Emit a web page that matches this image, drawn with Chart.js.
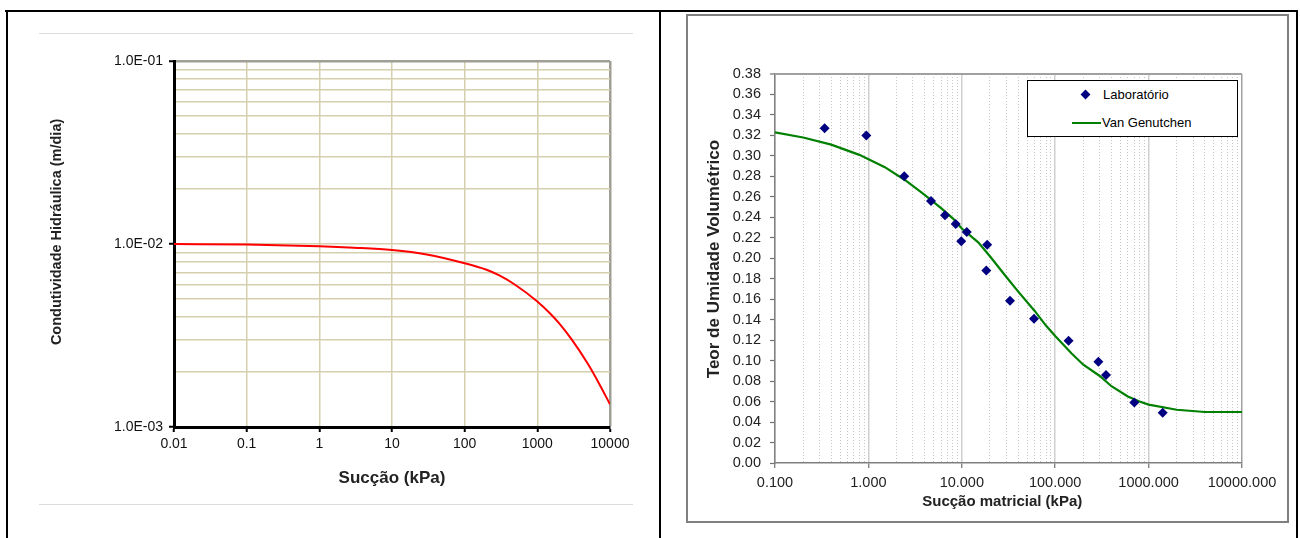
<!DOCTYPE html>
<html>
<head>
<meta charset="utf-8">
<script src="https://cdn.jsdelivr.net/npm/chart.js@4.4.0/dist/chart.umd.min.js"></script>
<style>
  body { margin: 0; background: #fff; }
  #page { position: relative; width: 1300px; height: 538px; overflow: hidden; font-family: "Liberation Sans", Arial, sans-serif; }
  .abs { position: absolute; }
  .legend-text { position: absolute; font-size: 13px; color: #000; line-height: 16px; }
</style>
</head>
<body>
<div id="page">
  <!-- table frame -->
  <div class="abs" style="left:5px;top:10px;width:1293px;height:2px;background:#000"></div>
  <div class="abs" style="left:6px;top:10px;width:2px;height:528px;background:#000"></div>
  <div class="abs" style="left:659px;top:10px;width:2px;height:528px;background:#000"></div>
  <div class="abs" style="left:1296px;top:10px;width:2px;height:528px;background:#000"></div>
  <!-- left chart separators -->
  <div class="abs" style="left:39px;top:33px;width:594px;height:1px;background:#dcdcdc"></div>
  <div class="abs" style="left:39px;top:504px;width:594px;height:1px;background:#dcdcdc"></div>
  <!-- right chart box -->
  <div class="abs" style="left:686px;top:14px;width:603px;height:509px;border:2px solid #808080;box-sizing:border-box"></div>

  <canvas id="kChart" class="abs" style="left:0;top:0"></canvas>
  <canvas id="wChart" class="abs" style="left:661px;top:0"></canvas>

  <!-- legend of right chart -->
  <div class="abs" style="left:1027px;top:80px;width:211px;height:57px;border:1.5px solid #000;box-sizing:border-box;background:#fff"></div>
  <div class="abs" style="left:1082px;top:91px;width:7px;height:7px;background:#000080;transform:rotate(45deg)"></div>
  <div class="legend-text" style="left:1103px;top:87px">Laboratório</div>
  <div class="abs" style="left:1072px;top:122px;width:29px;height:2px;background:#008000"></div>
  <div class="legend-text" style="left:1102px;top:115px">Van Genutchen</div>
</div>

<script>
// ---- left chart: hydraulic conductivity ----
const kSuction = [0.01, 0.1, 1, 3, 10, 30, 100, 200, 300, 500, 1000, 1500, 2000, 3000, 5000, 7000, 10000];
const kConductivity = [0.0100, 0.00993, 0.00971, 0.00954, 0.00927, 0.00877, 0.00785, 0.00723, 0.00673, 0.00597, 0.00485, 0.00417, 0.00368, 0.00299, 0.00220, 0.00174, 0.00133];
const kSuctionTicks = [0.01, 0.1, 1, 10, 100, 1000, 10000];
const kSuctionLabels = ['0.01', '0.1', '1', '10', '100', '1000', '10000'];
const kCondTicks = [0.001, 0.01, 0.1];
const kCondLabels = ['1.0E-03', '1.0E-02', '1.0E-01'];

// ---- right chart: water retention ----
const labSuction = [0.34, 0.95, 2.42, 4.68, 6.61, 8.6, 9.87, 11.3, 18.7, 18.3, 32.8, 59.3, 139, 290, 350, 703, 1416];
const labMoisture = [0.327, 0.320, 0.280, 0.256, 0.242, 0.2335, 0.2165, 0.2257, 0.2133, 0.188, 0.1586, 0.141, 0.1195, 0.099, 0.086, 0.059, 0.049];
const vgSuction = [0.1, 0.2, 0.4, 0.8, 1.5, 2.5, 4, 6, 8, 10, 15, 20, 30, 40, 60, 80, 100, 150, 200, 300, 400, 600, 800, 1000, 2000, 4000, 10000];
const vgMoisture = [0.323, 0.318, 0.311, 0.301, 0.289, 0.276, 0.262, 0.249, 0.239, 0.229, 0.2156, 0.202, 0.1817, 0.1677, 0.1488, 0.134, 0.124, 0.107, 0.096, 0.085, 0.075, 0.065, 0.060, 0.057, 0.052, 0.0498, 0.0498];
const wSuctionTicks = [0.1, 1, 10, 100, 1000, 10000];
const wSuctionLabels = ['0.100', '1.000', '10.000', '100.000', '1000.000', '10000.000'];
const moistureTicks = [0.00, 0.02, 0.04, 0.06, 0.08, 0.10, 0.12, 0.14, 0.16, 0.18, 0.20, 0.22, 0.24, 0.26, 0.28, 0.30, 0.32, 0.34, 0.36, 0.38];
const moistureLabels = ['0.00', '0.02', '0.04', '0.06', '0.08', '0.10', '0.12', '0.14', '0.16', '0.18', '0.20', '0.22', '0.24', '0.26', '0.28', '0.30', '0.32', '0.34', '0.36', '0.38'];

Chart.defaults.font.family = '"Liberation Sans", Arial, sans-serif';
Chart.defaults.color = '#111';

const minorSteps = [1, 2, 3, 4, 5, 6, 7, 8, 9];
function logGrid(decades) {
  const out = [];
  decades.slice(0, -1).forEach(d => minorSteps.forEach(m => out.push(+(d * m).toPrecision(6))));
  out.push(decades[decades.length - 1]);
  return out;
}
function near(a, b) { return Math.abs(a - b) <= Math.abs(b) * 1e-6 + 1e-12; }
function labelFor(values, labels) {
  return function (v) {
    const i = values.findIndex(t => near(v, t));
    return i >= 0 ? labels[i] : '';
  };
}
function isIn(values, v) { return values.some(t => near(v, t)); }

// left chart
const kCanvas = document.getElementById('kChart');
kCanvas.width = 659; kCanvas.height = 538;
const beige = '#d6cfad';
new Chart(kCanvas, {
  type: 'scatter',
  data: {
    datasets: [{
      label: 'K',
      data: kSuction.map((x, i) => ({ x: x, y: kConductivity[i] })),
      showLine: true,
      borderColor: '#ff0000',
      borderWidth: 2,
      pointRadius: 0,
      cubicInterpolationMode: 'monotone'
    }]
  },
  options: {
    responsive: false,
    animation: false,
    layout: { padding: { left: 0, top: 61, right: 49, bottom: 41 } },
    plugins: { legend: { display: false }, tooltip: { enabled: false } },
    scales: {
      x: {
        type: 'logarithmic',
        min: 0.01, max: 10000,
        afterBuildTicks: s => { s.ticks = kSuctionTicks.map(v => ({ value: v })); },
        afterFit: s => { s.height = 70; },
        ticks: { autoSkip: false, maxRotation: 0, padding: 4, font: { size: 14 }, callback: labelFor(kSuctionTicks, kSuctionLabels) },
        grid: {
          color: c => (c.tick && near(c.tick.value, 10000)) ? '#a09f96' : beige,
          lineWidth: c => (c.tick && near(c.tick.value, 10000)) ? 2.5 : 1.5,
          tickColor: '#000', tickWidth: 2, tickLength: 5
        },
        border: { color: '#000', width: 3 },
        title: { display: true, text: 'Sucção (kPa)', font: { size: 17, weight: 'bold' }, color: '#222', padding: { top: 0, bottom: 8 } }
      },
      y: {
        type: 'logarithmic',
        min: 0.001, max: 0.1,
        afterBuildTicks: s => { s.ticks = logGrid(kCondTicks).map(v => ({ value: v })); },
        afterFit: s => { s.width = 174; },
        ticks: { autoSkip: false, padding: 6, font: { size: 14 }, callback: labelFor(kCondTicks, kCondLabels) },
        grid: {
          color: c => (c.tick && near(c.tick.value, 0.1)) ? '#a09f96' : beige,
          lineWidth: c => (c.tick && near(c.tick.value, 0.1)) ? 2.5 : 1.5,
          tickColor: c => (c.tick && isIn(kCondTicks, c.tick.value)) ? '#000' : 'rgba(0,0,0,0)',
          tickWidth: 2, tickLength: 5
        },
        border: { color: '#000', width: 3 },
        // leading spaces lift the title a little above the plot centre, as in the original
        title: { display: true, text: '      Condutividade Hidráulica (m/dia)', font: { size: 14.5, weight: 'bold' }, color: '#222', padding: { top: 48, bottom: 0 } }
      }
    }
  }
});

// right chart
const wCanvas = document.getElementById('wChart');
wCanvas.width = 635; wCanvas.height = 538;
new Chart(wCanvas, {
  type: 'scatter',
  data: {
    datasets: [{
      label: 'Laboratório',
      data: labSuction.map((x, i) => ({ x: x, y: labMoisture[i] })),
      pointStyle: 'rectRot',
      pointRadius: 5,
      backgroundColor: '#000080',
      borderColor: '#000080',
      borderWidth: 0,
      showLine: false,
      order: 0
    }, {
      label: 'Van Genutchen',
      data: vgSuction.map((x, i) => ({ x: x, y: vgMoisture[i] })),
      showLine: true,
      borderColor: '#008000',
      borderWidth: 2.2,
      pointRadius: 0,
      tension: 0,
      order: 1
    }]
  },
  options: {
    responsive: false,
    animation: false,
    layout: { padding: { left: 0, top: 74, right: 54, bottom: 20 } },
    plugins: { legend: { display: false }, tooltip: { enabled: false } },
    scales: {
      x: {
        type: 'logarithmic',
        min: 0.1, max: 10000,
        afterBuildTicks: s => { s.ticks = logGrid(wSuctionTicks).map(v => ({ value: v })); },
        afterFit: s => { s.height = 55; },
        ticks: { autoSkip: false, maxRotation: 0, padding: 6, font: { size: 14.5 }, color: '#222', callback: labelFor(wSuctionTicks, wSuctionLabels) },
        grid: {
          color: c => {
            if (!c.tick) return '#c8c8c8';
            if (near(c.tick.value, 10000)) return '#a0a0a0';
            return isIn(wSuctionTicks, c.tick.value) ? '#cfcfcf' : '#c4c4c4';
          },
          lineWidth: c => (c.tick && isIn(wSuctionTicks, c.tick.value)) ? 1.5 : 1,
          tickColor: c => (c.tick && isIn(wSuctionTicks, c.tick.value)) ? '#707070' : 'rgba(0,0,0,0)',
          tickWidth: 1.2, tickLength: 5
        },
        border: {
          color: '#808080', width: 1.5,
          dash: c => (c.tick && !isIn(wSuctionTicks, c.tick.value)) ? [1, 2] : []
        },
        title: { display: true, text: 'Sucção matricial (kPa)   ', font: { size: 15, weight: 'bold' }, color: '#222', padding: { top: 0, bottom: 7 } }
      },
      y: {
        min: 0, max: 0.38,
        afterBuildTicks: s => { s.ticks = moistureTicks.map(v => ({ value: v })); },
        afterFit: s => { s.width = 114; },
        ticks: { autoSkip: false, padding: 9, font: { size: 14.5 }, color: '#222', callback: labelFor(moistureTicks, moistureLabels) },
        grid: {
          color: c => (c.tick && near(c.tick.value, 0.38)) ? '#a0a0a0' : 'rgba(0,0,0,0)',
          lineWidth: c => (c.tick && near(c.tick.value, 0.38)) ? 2 : 1,
          tickColor: '#707070', tickWidth: 1.2, tickLength: 5
        },
        border: { color: '#808080', width: 1.5 },
        title: { display: true, text: '    Teor de Umidade Volumétrico', font: { size: 17, weight: 'bold' }, color: '#222', padding: { top: 43, bottom: 0 } }
      }
    }
  }
});
</script>
</body>
</html>
